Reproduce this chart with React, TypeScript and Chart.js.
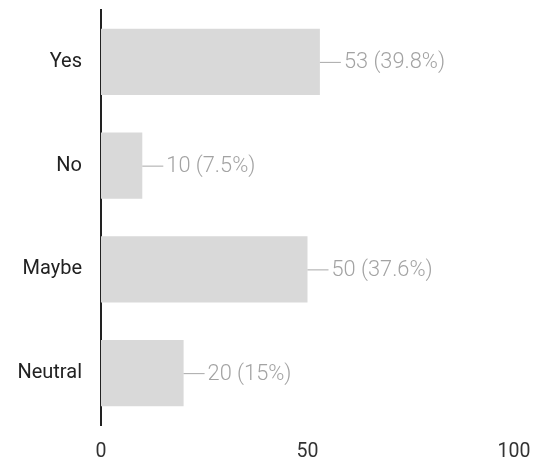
import React, { useEffect, useRef } from "react";
import { Chart, registerables } from "chart.js";

Chart.register(...registerables);

const categories = ["Yes", "No", "Maybe", "Neutral"];
const counts = [53, 10, 50, 20];
const percents = ["39.8%", "7.5%", "37.6%", "15%"];
const xTicks = [0, 50, 100];

const labelPlugin = {
  id: "valueLabels",
  afterDatasetsDraw(chart: any) {
    const ctx = chart.ctx;
    const meta = chart.getDatasetMeta(0);
    ctx.save();
    ctx.font = "300 21.8px Roboto";
    ctx.fillStyle = "#a3a3a3";
    ctx.strokeStyle = "#a8a8a8";
    ctx.lineWidth = 1;
    ctx.textBaseline = "middle";
    ctx.textAlign = "left";
    meta.data.forEach((bar: any, i: number) => {
      const x = bar.x;
      const y = bar.y;
      ctx.beginPath();
      ctx.moveTo(x, y + 0.5);
      ctx.lineTo(x + 21, y + 0.5);
      ctx.stroke();
      ctx.fillText(`${counts[i]} (${percents[i]})`, x + 24, y + 1);
    });
    ctx.restore();
  },
};

export default function App() {
  const ref = useRef<HTMLCanvasElement>(null);
  useEffect(() => {
    if (!ref.current) return;
    const chart = new Chart(ref.current, {
      type: "bar",
      data: {
        labels: categories,
        datasets: [
          {
            data: counts,
            backgroundColor: "#d9d9d9",
            borderWidth: 0,
            barPercentage: 0.64,
            categoryPercentage: 1,
          },
        ],
      },
      plugins: [labelPlugin],
      options: {
        indexAxis: "y",
        responsive: false,
        animation: false,
        layout: { padding: { top: 2, right: 21, left: 0, bottom: 0 } },
        plugins: { legend: { display: false }, tooltip: { enabled: false } },
        scales: {
          x: {
            min: 0,
            max: 100,
            afterBuildTicks(axis: any) {
              axis.ticks = xTicks.map((v) => ({ value: v }));
            },
            afterFit(axis: any) {
              axis.height = 37;
              axis.paddingLeft = 0;
              axis.paddingRight = 0;
            },
            grid: { display: false, drawTicks: false },
            border: { display: false },
            ticks: {
              padding: 15,
              color: "#333",
              font: { family: "Roboto", size: 19.5 },
              maxRotation: 0,
            },
          },
          y: {
            afterFit(axis: any) {
              axis.width = 93;
              axis.paddingTop = 0;
              axis.paddingBottom = 0;
            },
            grid: { display: false, drawTicks: false },
            border: { display: true, color: "#222", width: 2 },
            ticks: {
              padding: 19,
              color: "#222",
              font: { family: "Roboto", size: 20 },
            },
          },
        },
      },
    });
    return () => chart.destroy();
  }, []);
  return (
    <div style={{ width: 527, height: 454 }}>
      <canvas ref={ref} width={527} height={454} style={{ display: "block" }} />
    </div>
  );
}
